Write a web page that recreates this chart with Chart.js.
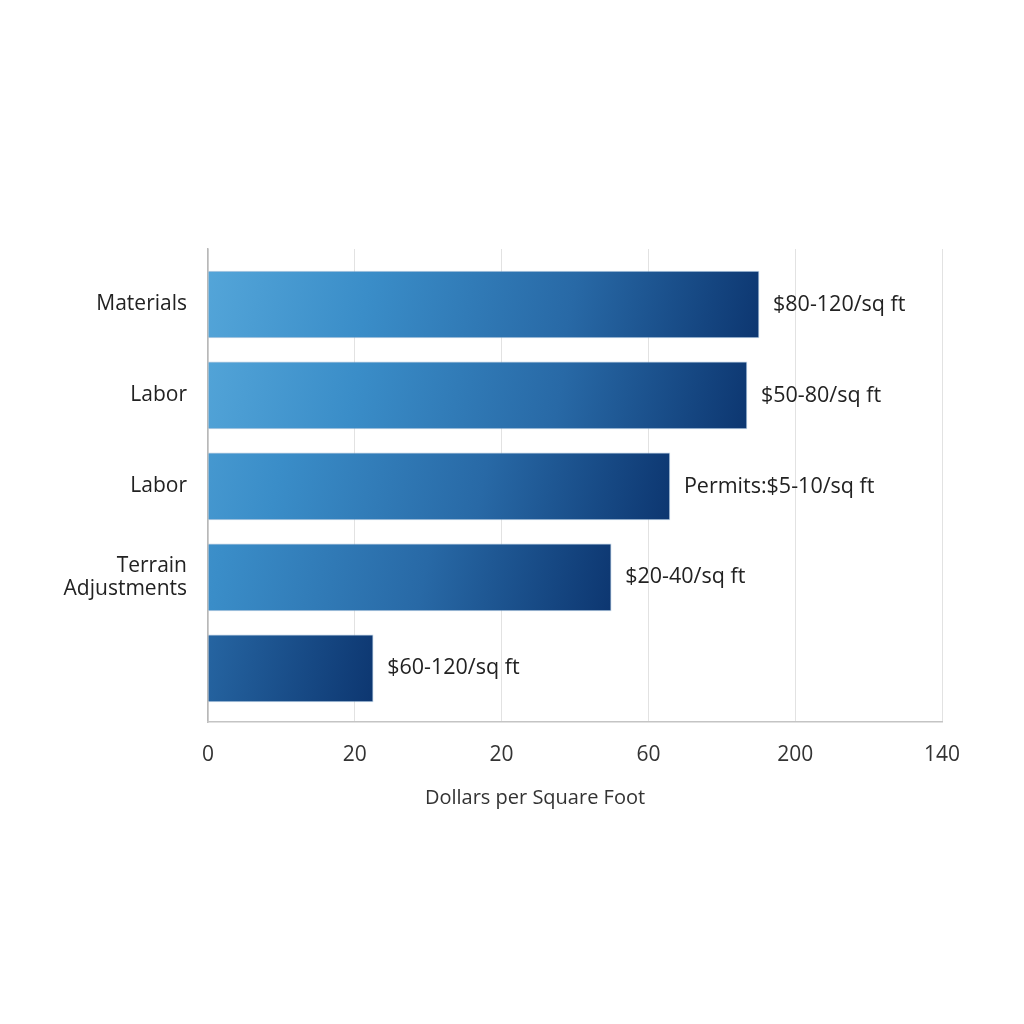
<!DOCTYPE html>
<html>
<head>
<meta charset="utf-8">
<script src="https://cdn.jsdelivr.net/npm/chart.js@4/dist/chart.umd.min.js"></script>
<style>
  html, body { margin: 0; padding: 0; background: #ffffff; }
  #wrap { width: 1024px; height: 1024px; position: relative; }
</style>
</head>
<body>
<div id="wrap"><canvas id="c"></canvas></div>
<script>
// ---- data ----
const categories = ["Materials", "Labor", "Labor", ["Terrain", "Adjustments"], ""];
const barValues = [105.1, 102.8, 88.1, 76.9, 31.5];
const valueLabels = ["$80-120/sq ft", "$50-80/sq ft", "Permits:$5-10/sq ft", "$20-40/sq ft", "$60-120/sq ft"];
const xTickValues = [0, 28, 56, 84, 112, 140];
const xTickLabels = ["0", "20", "20", "60", "200", "140"];
const xAxisTitle = "Dollars per Square Foot";

const FONT = "'Open Sans', 'Noto Sans', sans-serif";

function barGradient(ctx) {
  const chart = ctx.chart;
  const xs = chart.scales.x, ys = chart.scales.y;
  if (!xs || !ys || ctx.dataIndex === undefined) return '#2a6ea8';
  const v = barValues[ctx.dataIndex];
  const xEnd = xs.getPixelForValue(v);
  const yc = ys.getPixelForValue(ctx.dataIndex);
  if (!isFinite(xEnd) || !isFinite(yc)) return '#2a6ea8';
  const L = 600;
  const g = chart.ctx.createLinearGradient(xEnd - L, yc - 60, xEnd, yc + 60);
  g.addColorStop(0, '#5cadde');
  g.addColorStop(0.35, '#3a8dc8');
  g.addColorStop(0.68, '#2869a6');
  g.addColorStop(1, '#0c356f');
  return g;
}

const valueLabelPlugin = {
  id: 'valueLabels',
  afterDatasetsDraw(chart) {
    const meta = chart.getDatasetMeta(0);
    const c = chart.ctx;
    c.save();
    c.font = '21.5px ' + FONT;
    c.fillStyle = '#222222';
    c.textAlign = 'left';
    c.textBaseline = 'middle';
    meta.data.forEach((el, i) => {
      c.fillText(valueLabels[i], el.x + 14, el.y);
    });
    // x-axis title
    const a = chart.chartArea;
    c.font = '20px ' + FONT;
    c.fillStyle = '#333333';
    c.textAlign = 'center';
    c.fillText(xAxisTitle, (a.left + a.right) / 2 - 40, a.bottom + 76);
    c.restore();
  }
};

new Chart(document.getElementById('c'), {
  type: 'bar',
  data: {
    datasets: [{
      data: barValues.map((v, i) => ({ x: v, y: i })),
      backgroundColor: barGradient,
      borderColor: 'rgba(120,160,200,0.5)',
      borderWidth: 1,
      borderSkipped: 'left',
      barThickness: 67
    }]
  },
  options: {
    indexAxis: 'y',
    responsive: true,
    maintainAspectRatio: false,
    animation: false,
    layout: { padding: { top: 249, right: 82, bottom: 202, left: 0 } },
    plugins: { legend: { display: false }, tooltip: { enabled: false } },
    scales: {
      y: {
        type: 'linear',
        reverse: true,
        offset: false,
        min: -0.61,
        max: 4.59,
        afterBuildTicks: (s) => { s.ticks = categories.map((c, i) => ({ value: i })); },
        afterFit: (s) => { s.width = 208; },
        grid: { display: false, drawTicks: false },
        border: { display: true, color: '#b8b8b8', width: 1.5 },
        ticks: {
          padding: 21,
          color: '#222222',
          font: { family: FONT, size: 21, lineHeight: 1.1 },
          callback: (v) => categories[Math.round(v)]
        }
      },
      x: {
        type: 'linear',
        min: 0,
        max: 140,
        afterBuildTicks: (s) => { s.ticks = xTickValues.map(v => ({ value: v })); },
        afterFit: (s) => { s.height = 100; },
        grid: { color: '#e2e2e2', lineWidth: 1, drawTicks: false },
        border: { display: true, color: '#c4c4c4', width: 1.5 },
        ticks: {
          padding: 20,
          color: '#333333',
          font: { family: FONT, size: 21 },
          maxRotation: 0,
          callback: (v) => xTickLabels[xTickValues.indexOf(v)]
        },
        title: { display: false }
      }
    }
  },
  plugins: [valueLabelPlugin]
});
</script>
</body>
</html>
